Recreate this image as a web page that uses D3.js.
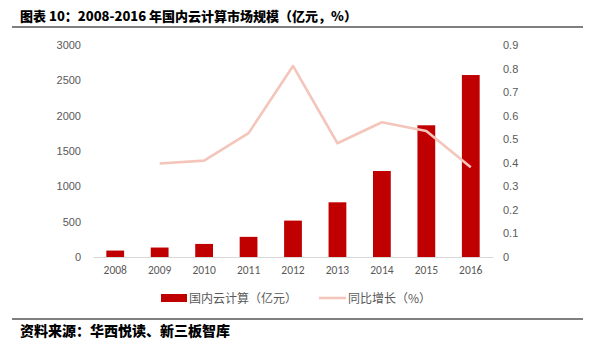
<!DOCTYPE html>
<html><head><meta charset="utf-8">
<script src="https://cdn.jsdelivr.net/npm/d3@7"></script>
<style>
body{margin:0;background:#fff;}
svg{display:block;font-family:"Noto Sans CJK SC","Noto Sans",sans-serif;}
</style></head><body>
<svg id="c" width="595" height="343"></svg>
<script>
const years = ["2008","2009","2010","2011","2012","2013","2014","2015","2016"];
const marketSize = [91, 134, 185, 285, 515, 774, 1217, 1864, 2575];
const growthYears = ["2009","2010","2011","2012","2013","2014","2015","2016"];
const growthRate = [0.397, 0.409, 0.526, 0.811, 0.483, 0.572, 0.535, 0.381];
const leftTicks = [0,500,1000,1500,2000,2500,3000];
const rightTicks = [0,0.1,0.2,0.3,0.4,0.5,0.6,0.7,0.8,0.9];
const titleText = "图表 10：2008-2016 年国内云计算市场规模（亿元，%）";
const sourceText = "资料来源：华西悦读、新三板智库";
const legendLabels = ["国内云计算（亿元）","同比增长（%）"];

const svg = d3.select("#c");
const plot = {left:93, right:493, top:45, bottom:257};
const x = d3.scaleBand().domain(years).range([plot.left, plot.right]).paddingInner(0.6).paddingOuter(0.3);
const yL = d3.scaleLinear().domain([0,3000]).range([plot.bottom, plot.top]);
const yR = d3.scaleLinear().domain([0,0.9]).range([plot.bottom, plot.top]);

// title
svg.append("text").attr("x",20).attr("y",21).attr("font-size",13).attr("font-weight",900)
  .attr("fill","#000").text(titleText);
svg.append("line").attr("x1",12).attr("x2",583).attr("y1",27).attr("y2",27).attr("stroke","#000").attr("stroke-width",1.2);

// bars
svg.append("g").selectAll("rect").data(marketSize).join("rect")
  .attr("x",(d,i)=>x(years[i])).attr("width",x.bandwidth())
  .attr("y",d=>yL(d)).attr("height",d=>yL(0)-yL(d)).attr("fill","#c00000");

// x axis
const xAxis = svg.append("g").attr("transform",`translate(0,${plot.bottom})`)
  .call(d3.axisBottom(x).tickSize(0).tickPadding(9));
xAxis.select(".domain").attr("stroke","#d9d9d9");
xAxis.selectAll("text").attr("font-size",11.5).attr("fill","#595959").attr("font-family","Carlito, Calibri, 'Liberation Sans', sans-serif");

// left axis
const la = svg.append("g").attr("transform",`translate(${plot.left},0)`)
  .call(d3.axisLeft(yL).tickValues(leftTicks).tickSize(0).tickPadding(12).tickFormat(d3.format("d")));
la.select(".domain").remove();
la.selectAll("text").attr("font-size",11).attr("fill","#595959").attr("font-family","'Liberation Sans', sans-serif");

// right axis
const ra = svg.append("g").attr("transform",`translate(${plot.right},0)`)
  .call(d3.axisRight(yR).tickValues(rightTicks).tickSize(0).tickPadding(10).tickFormat(d=>d===0?"0":d3.format(".1f")(d)));
ra.select(".domain").remove();
ra.selectAll("text").attr("font-size",11).attr("fill","#595959").attr("font-family","'Liberation Sans', sans-serif");

// line
const line = d3.line().x((d,i)=>x(growthYears[i])+x.bandwidth()/2).y(d=>yR(d));
svg.append("path").datum(growthRate).attr("d",line).attr("fill","none")
  .attr("stroke","#f4c5ba").attr("stroke-width",2.6).attr("stroke-linejoin","round");

// legend
const lg = svg.append("g").attr("font-size",12).attr("fill","#595959");
lg.append("rect").attr("x",161).attr("y",294).attr("width",26).attr("height",8).attr("fill","#c00000");
lg.append("text").attr("x",189).attr("y",302.5).text(legendLabels[0]);
lg.append("line").attr("x1",319).attr("x2",346).attr("y1",298).attr("y2",298).attr("stroke","#f4c5ba").attr("stroke-width",2.6);
lg.append("text").attr("x",348).attr("y",302.5).text(legendLabels[1]);

// source
svg.append("line").attr("x1",12).attr("x2",583).attr("y1",319).attr("y2",319).attr("stroke","#000").attr("stroke-width",1.2);
svg.append("text").attr("x",20).attr("y",336).attr("font-size",14).attr("font-weight",900)
  .attr("fill","#000").text(sourceText);
</script>
</body></html>
